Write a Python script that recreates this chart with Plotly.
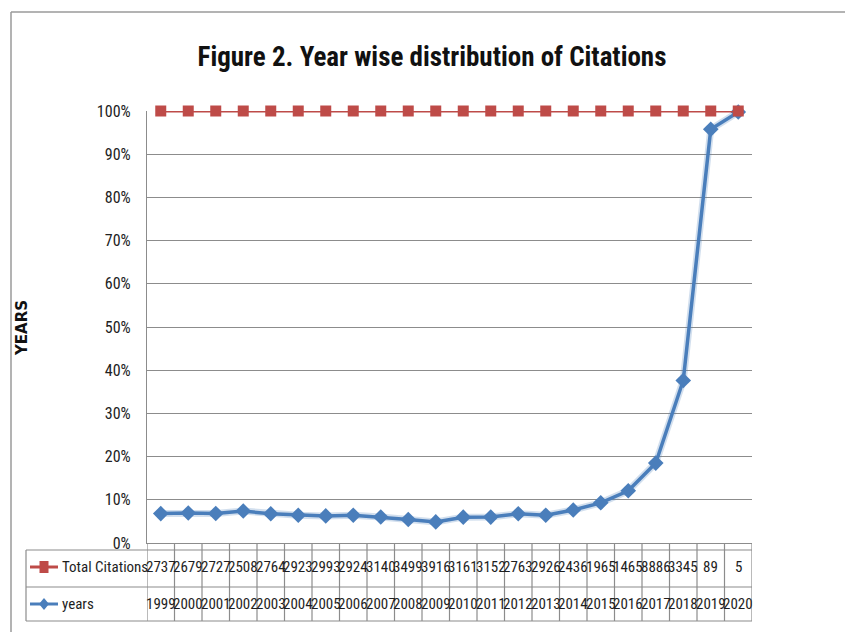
import numpy as np
import plotly.graph_objects as go

# Publication years and the citation counts recorded for each year
years = [1999, 2000, 2001, 2002, 2003, 2004, 2005, 2006, 2007, 2008, 2009,
         2010, 2011, 2012, 2013, 2014, 2015, 2016, 2017, 2018, 2019, 2020]
total_citations = [27372, 26792, 27272, 25082, 27642, 29232, 29932, 29242, 31402, 34992, 39162,
                   31612, 31522, 27632, 29262, 24362, 19652, 14658, 8886, 3345, 89, 5]
series_names = ["Total Citations", "years"]
y_ticks = [0, 10, 20, 30, 40, 50, 60, 70, 80, 90, 100]

RED = "#BE4B48"
BLUE = "#4A7EBB"
GRID = "#8C8C8C"
NARROW = "Liberation Sans Narrow, Arial Narrow, Roboto Condensed, sans-serif"

W, H = 845, 632
L, R, T, B = 147, 752, 111, 543  # plot area edges in pixels

# 100% stacked line: "years" is the lower series, the cumulative top is always 100%
yrs = np.array(years, dtype=float)
cit = np.array(total_citations, dtype=float)
pct_years = yrs / (yrs + cit) * 100
pct_total = (yrs + cit) / (yrs + cit) * 100
cats = [str(y) for y in years]


def px(x):
    return (x - L) / (R - L)


def py(y):
    return (B - y) / (B - T)


fig = go.Figure()

# soft shadow under the blue line
fig.add_trace(go.Scatter(x=cats, y=pct_years, mode="lines",
                         line=dict(color="rgba(74,126,187,0.25)", width=7),
                         hoverinfo="skip", cliponaxis=False))
fig.add_trace(go.Scatter(x=cats, y=pct_years, mode="lines+markers", name=series_names[1],
                         line=dict(color=BLUE, width=3.5),
                         marker=dict(symbol="diamond", size=12, color=BLUE),
                         cliponaxis=False))
fig.add_trace(go.Scatter(x=cats, y=pct_total, mode="lines+markers", name=series_names[0],
                         line=dict(color=RED, width=3),
                         marker=dict(symbol="square", size=11, color=RED),
                         cliponaxis=False))

shapes = []
line_style = dict(color=GRID, width=1.2)

# data table grid below the axis
row_top, row_mid, row_bot = 550, 587, 621
for yy in (row_top, row_mid, row_bot):
    shapes.append(dict(type="line", xref="paper", yref="paper",
                       x0=px(26), x1=1, y0=py(yy), y1=py(yy), line=line_style))
shapes.append(dict(type="line", xref="paper", yref="paper",
                   x0=px(26), x1=px(26), y0=py(row_top), y1=py(row_bot), line=line_style))
for i in range(len(years) + 1):
    shapes.append(dict(type="line", xref="x", yref="paper",
                       x0=i - 0.5, x1=i - 0.5, y0=0, y1=py(row_bot), line=line_style))

# legend keys inside the table header column
key_x0, key_x1, key_c = 30, 58, 44
y_red, y_blue = 567, 604
shapes.append(dict(type="line", xref="paper", yref="paper",
                   x0=px(key_x0), x1=px(key_x1), y0=py(y_red), y1=py(y_red),
                   line=dict(color=RED, width=3)))
shapes.append(dict(type="rect", xref="paper", yref="paper",
                   x0=px(key_c - 4.5), x1=px(key_c + 4.5), y0=py(y_red + 6), y1=py(y_red - 6),
                   line=dict(width=0), fillcolor=RED))
shapes.append(dict(type="line", xref="paper", yref="paper",
                   x0=px(key_x0), x1=px(key_x1), y0=py(y_blue), y1=py(y_blue),
                   line=dict(color=BLUE, width=3)))
dpath = "M {a},{b} L {c},{d} L {a},{e} L {f},{d} Z".format(
    a=px(key_c), b=py(y_blue - 6), c=px(key_c + 5), d=py(y_blue),
    e=py(y_blue + 6), f=px(key_c - 5))
shapes.append(dict(type="path", xref="paper", yref="paper", path=dpath,
                   line=dict(width=0), fillcolor=BLUE))

# outer frame of the sheet
shapes.append(dict(type="line", xref="paper", yref="paper",
                   x0=px(11), x1=px(W), y0=py(12), y1=py(12),
                   line=dict(color="#9A9A9A", width=1.5)))
shapes.append(dict(type="line", xref="paper", yref="paper",
                   x0=px(11), x1=px(11), y0=py(12), y1=py(H),
                   line=dict(color="#9A9A9A", width=1.5)))

annotations = []
cell_font = dict(family=NARROW, size=15, color="#1E1E1E")
for i, (yv, cv) in enumerate(zip(years, total_citations)):
    # the cells are too narrow for five digits, so the overflow is clipped
    annotations.append(dict(x=i, y=py(y_red), xref="x", yref="paper",
                            text=str(cv)[:4], showarrow=False, font=cell_font,
                            xanchor="center", yanchor="middle"))
    annotations.append(dict(x=i, y=py(y_blue), xref="x", yref="paper",
                            text=str(yv), showarrow=False, font=cell_font,
                            xanchor="center", yanchor="middle"))
annotations.append(dict(x=px(60), y=py(y_red), xref="paper", yref="paper",
                        text=series_names[0], showarrow=False, font=cell_font,
                        xanchor="left", yanchor="middle"))
annotations.append(dict(x=px(60), y=py(y_blue), xref="paper", yref="paper",
                        text=series_names[1], showarrow=False, font=cell_font,
                        xanchor="left", yanchor="middle"))
annotations.append(dict(x=px(22), y=py(328), xref="paper", yref="paper",
                        text="<b>YEARS</b>", showarrow=False, textangle=-90,
                        font=dict(family="DejaVu Sans, Verdana, sans-serif", size=15, color="#111"),
                        xanchor="center", yanchor="middle"))

fig.update_layout(
    width=W, height=H,
    margin=dict(l=L, r=W - R, t=T, b=H - B, pad=0),
    paper_bgcolor="white", plot_bgcolor="white",
    showlegend=False,
    title=dict(text="<b>Figure 2. Year wise distribution of Citations</b>",
               x=432 / W, xanchor="center", y=1 - 57 / H, yanchor="middle",
               font=dict(family=NARROW, size=27, color="#111")),
    xaxis=dict(type="category", range=[-0.5, len(years) - 0.5], showticklabels=False,
               showgrid=False, showline=True, linecolor=GRID, linewidth=1.2,
               ticks="", zeroline=False),
    yaxis=dict(range=[0, 100], tickmode="array", tickvals=y_ticks,
               ticktext=[f"{v}%" for v in y_ticks],
               showgrid=True, gridcolor=GRID, gridwidth=1.3,
               showline=True, linecolor=GRID, linewidth=1.2, zeroline=False,
               ticks="outside", ticklen=12, tickcolor="rgba(0,0,0,0)",
               tickfont=dict(family=NARROW, size=16, color="#222")),
    shapes=shapes,
    annotations=annotations,
)

fig.write_html("out.html")
